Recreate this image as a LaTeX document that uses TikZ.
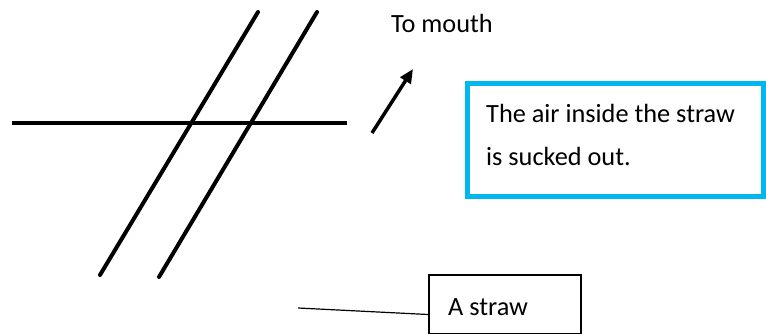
\documentclass[tikz,border=0pt]{standalone}
\usepackage{fontspec}
\setmainfont{Carlito}
\usetikzlibrary{arrows.meta}
\definecolor{skyblue}{RGB}{0,183,240}
\tikzset{
  strawline/.style={line width=4pt, line cap=round},
  airline/.style={line width=4pt},
  flowarrow/.style={line width=3.5pt, -{Triangle[length=14pt,width=12pt]}},
  label/.style={anchor=base west, inner sep=0pt, font=\fontsize{26.3}{32}\selectfont},
  notebox/.style={draw=skyblue, line width=5pt, anchor=north west, inner sep=0pt,
                  minimum width=296.5pt, minimum height=112.5pt},
  namebox/.style={draw, line width=1.5pt, anchor=north west, inner sep=0pt,
                  minimum width=152pt, minimum height=59pt},
  pointer/.style={line width=1.2pt}
}
\begin{document}
\begin{tikzpicture}[x=1pt, y=-1pt]
  \useasboundingbox (0,0) rectangle (766,334);

  % the straw: two parallel walls crossed by a level line
  \coordinate (levelL) at (12,123);
  \coordinate (levelR) at (347,123);
  \coordinate (wallAtop) at (258,12);
  \coordinate (wallAbot) at (100,275);
  \coordinate (wallBtop) at (317,12);
  \coordinate (wallBbot) at (159,277);
  \draw[airline] (levelL) -- (levelR);
  \draw[strawline] (wallAbot) -- (wallAtop);
  \draw[strawline] (wallBbot) -- (wallBtop);

  % air drawn up towards the mouth
  \coordinate (flowstart) at (372,133);
  \coordinate (flowend) at (413,69);
  \draw[flowarrow] (flowstart) -- (flowend);
  \node[label] (mouth) at (391,33) {To mouth};

  % explanation box
  \node[notebox] (note) at (464.5,81.5) {};
  \node[label] (noteA) at (486,123) {The air inside the straw};
  \node[label] (noteB) at (486,166) {is sucked out.};

  % name tag for the straw
  \node[namebox] (strawbox) at (428,274) {};
  \node[label] (strawname) at (448,315) {A straw};
  \coordinate (pointtip) at (298,308);
  \coordinate (pointend) at ([yshift=20pt]strawbox.south west);
  \draw[pointer] (pointtip) -- (pointend);
\end{tikzpicture}
\end{document}
